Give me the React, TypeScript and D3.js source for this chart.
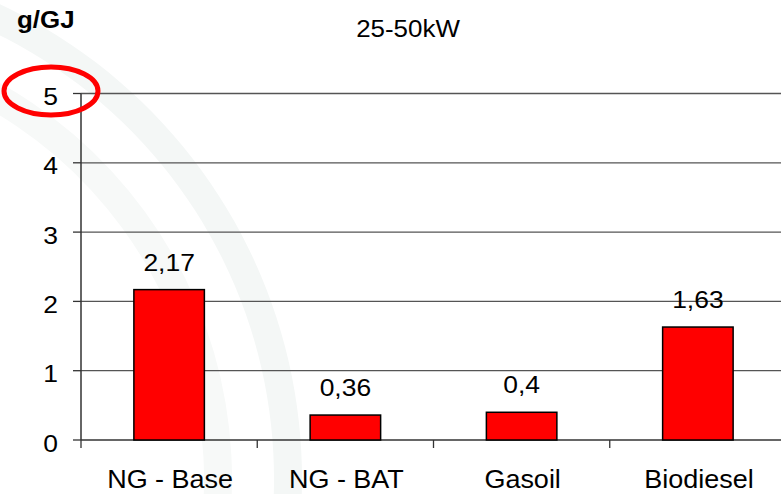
import React from "react";
import * as d3 from "d3";

const categories = ["NG - Base", "NG - BAT", "Gasoil", "Biodiesel"];
const values = [2.17, 0.36, 0.4, 1.63];
const valueLabels = ["2,17", "0,36", "0,4", "1,63"];
const yTicks = [0, 1, 2, 3, 4, 5];
const title = "25-50kW";
const unit = "g/GJ";

const W = 781;
const H = 494;
const FONT = "'Liberation Sans', Arial, Helvetica, sans-serif";
const SX = 1.08;

export default function App() {
  const x = d3
    .scaleBand<string>()
    .domain(categories)
    .range([81, 786])
    .paddingInner(0.6)
    .paddingOuter(0.3);
  const y = d3.scaleLinear().domain([0, 5]).range([440, 93.5]);
  const step = x.step();
  const x0 = 81;

  const stretchText = (
    tx: number,
    ty: number,
    txt: string,
    anchor: string,
    size: number,
    weight = "normal",
    key?: string
  ) => (
    <g key={key} transform={`translate(${tx},${ty}) scale(${SX},1)`}>
      <text
        x={0}
        y={0}
        textAnchor={anchor as any}
        fontFamily={FONT}
        fontSize={size}
        fontWeight={weight}
        fill="#000"
      >
        {txt}
      </text>
    </g>
  );

  const arcPath = (cx: number, cy: number, r: number) => {
    const a = d3.arc()({
      innerRadius: r - 14,
      outerRadius: r + 14,
      startAngle: -0.1,
      endAngle: 1.75,
    } as any);
    return { d: a as string, cx, cy };
  };
  const arcs = [arcPath(-222, 479, 510), arcPath(-222, 479, 440)];

  return (
    <svg
      width={W}
      height={H}
      style={{ position: "absolute", left: 0, top: 0, background: "#fff" }}
    >
      <rect x={0} y={0} width={W} height={H} fill="#fff" />
      {/* faint watermark */}
      {arcs.map((a, i) => (
        <path
          key={i}
          d={a.d}
          transform={`translate(${a.cx},${a.cy})`}
          fill={i === 0 ? "#f4f7f6" : "#f7f9f8"}
        />
      ))}

      {/* grid lines */}
      {yTicks
        .filter((t) => t > 0)
        .map((t) => (
          <line
            key={`g${t}`}
            x1={x0}
            x2={W}
            y1={y(t)}
            y2={y(t)}
            stroke="#555"
            strokeWidth={1.3}
          />
        ))}

      {/* y axis */}
      <line x1={x0} x2={x0} y1={y(5)} y2={y(0)} stroke="#333" strokeWidth={1.5} />
      {yTicks.map((t) => (
        <g key={`yt${t}`}>
          <line x1={73} x2={x0} y1={y(t)} y2={y(t)} stroke="#333" strokeWidth={1.3} />
          {stretchText(58, y(t) + 11.5, String(t), "end", 24.5)}
        </g>
      ))}

      {/* x axis */}
      <line x1={x0} x2={W} y1={y(0)} y2={y(0)} stroke="#333" strokeWidth={1.5} />
      {categories.map((c, i) => (
        <line
          key={`xt${i}`}
          x1={x0 + i * step}
          x2={x0 + i * step}
          y1={y(0)}
          y2={y(0) + 8}
          stroke="#333"
          strokeWidth={1.3}
        />
      ))}

      {/* bars */}
      {categories.map((c, i) => (
        <rect
          key={`b${i}`}
          x={x(c)!}
          y={y(values[i])}
          width={x.bandwidth()}
          height={y(0) - y(values[i])}
          fill="#ff0000"
          stroke="#000"
          strokeWidth={1.5}
        />
      ))}

      {/* value labels */}
      {categories.map((c, i) =>
        stretchText(
          x(c)! + x.bandwidth() / 2,
          y(values[i]) - 19,
          valueLabels[i],
          "middle",
          24.5,
          "normal",
          `v${i}`
        )
      )}

      {/* category labels */}
      {categories.map((c, i) =>
        stretchText(x(c)! + x.bandwidth() / 2 + 1, 488, c, "middle", 25, "normal", `c${i}`)
      )}

      {/* title & unit */}
      {stretchText(408, 36.5, title, "middle", 24)}
      {stretchText(17, 28, unit, "start", 24, "bold")}

      {/* red ellipse */}
      <ellipse cx={51} cy={91} rx={47} ry={24} fill="none" stroke="#ff0000" strokeWidth={5} />
    </svg>
  );
}
